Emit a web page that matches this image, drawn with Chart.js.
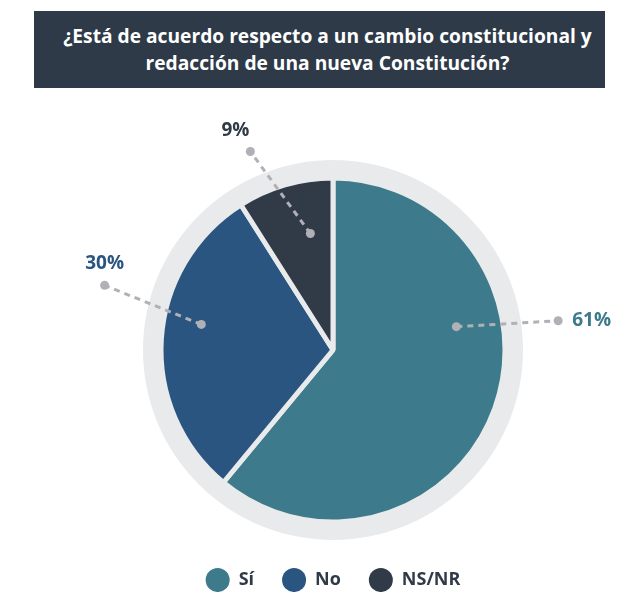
<!DOCTYPE html>
<html lang="es">
<head>
<meta charset="utf-8">
<script src="https://cdn.jsdelivr.net/npm/chart.js@4.4.1/dist/chart.umd.min.js"></script>
<style>
  html, body { margin: 0; padding: 0; background: #fff; }
  #wrap { position: relative; width: 633px; height: 592px; }
  #title {
    position: absolute; left: 34px; top: 11px; width: 571px; height: 77px;
    background: #2e3a48; color: #fff; box-sizing: border-box; padding: 0 0 2px 16px;
    display: flex; align-items: center; justify-content: center; text-align: center;
    font-family: "Open Sans", sans-serif; font-weight: 700; font-size: 19.2px; line-height: 27px;
  }
  #chart { position: absolute; left: 0; top: 0; }
</style>
</head>
<body>
<div id="wrap">
  <div id="title">¿Está de acuerdo respecto a un cambio constitucional y<br>redacción de una nueva Constitución?</div>
  <canvas id="chart" width="633" height="592"></canvas>
</div>
<script>
const categories = ['Sí', 'No', 'NS/NR'];
const percentages = [61, 30, 9];
const sliceColors = ['#3d7a8c', '#2a5580', '#313b48'];

const ringColor = '#e9eaec';
const leaderColor = '#b1b0b7';

// leader line placement, per slice: angles in degrees (0 = right, clockwise), radii relative to pie radius
const leaderLayout = [
  { inAngle: -10.7, inR: 0.73, outAngle: -7.4, outR: 1.32, textDx: 14, textDy: 0, align: 'left' },
  { inAngle: 191, inR: 0.78, outAngle: 195.8, outR: 1.38, textDx: 0, textDy: -22, align: 'center' },
  { inAngle: 259, inR: 0.69, outAngle: 247.4, outR: 1.25, textDx: -15, textDy: -21, align: 'center' }
];

// grey disc behind the pie
const ringPlugin = {
  id: 'ring',
  beforeDatasetsDraw(chart) {
    const arc = chart.getDatasetMeta(0).data[0];
    if (!arc) return;
    const { ctx } = chart;
    ctx.save();
    ctx.fillStyle = ringColor;
    ctx.beginPath();
    ctx.arc(arc.x, arc.y, arc.outerRadius + 18, 0, Math.PI * 2);
    ctx.fill();
    ctx.restore();
  }
};

// dashed leader lines with dots and percentage labels
const leaderPlugin = {
  id: 'leaders',
  afterDatasetsDraw(chart) {
    const { ctx } = chart;
    const meta = chart.getDatasetMeta(0);
    meta.data.forEach((arc, i) => {
      const L = leaderLayout[i];
      const R = arc.outerRadius;
      const a1 = L.inAngle * Math.PI / 180;
      const a2 = L.outAngle * Math.PI / 180;
      const x1 = arc.x + Math.cos(a1) * R * L.inR;
      const y1 = arc.y + Math.sin(a1) * R * L.inR;
      const x2 = arc.x + Math.cos(a2) * R * L.outR;
      const y2 = arc.y + Math.sin(a2) * R * L.outR;
      ctx.save();
      ctx.strokeStyle = leaderColor;
      ctx.lineWidth = 3;
      ctx.setLineDash([6, 5]);
      ctx.beginPath();
      ctx.moveTo(x1, y1);
      ctx.lineTo(x2, y2);
      ctx.stroke();
      ctx.setLineDash([]);
      ctx.fillStyle = leaderColor;
      [[x1, y1], [x2, y2]].forEach(([x, y]) => {
        ctx.beginPath();
        ctx.arc(x, y, 4.5, 0, Math.PI * 2);
        ctx.fill();
      });
      ctx.fillStyle = sliceColors[i];
      ctx.font = '700 19px "Open Sans", sans-serif';
      ctx.textAlign = L.align;
      ctx.textBaseline = 'middle';
      ctx.fillText(percentages[i] + '%', x2 + L.textDx, y2 + L.textDy);
      ctx.restore();
    });
  }
};

new Chart(document.getElementById('chart'), {
  type: 'pie',
  data: {
    labels: categories,
    datasets: [{
      data: percentages,
      backgroundColor: sliceColors,
      borderColor: ringColor,
      borderWidth: 5,
      hoverOffset: 0
    }]
  },
  options: {
    responsive: false,
    animation: false,
    radius: 172,
    rotation: 0,
    layout: { padding: { top: 157, left: 33, right: 0, bottom: -7 } },
    plugins: {
      tooltip: { enabled: false },
      legend: {
        position: 'bottom',
        labels: {
          usePointStyle: true,
          pointStyle: 'circle',
          pointStyleWidth: 24,
          boxHeight: 17,
          padding: 28,
          color: '#313b48',
          font: { family: '"Open Sans", sans-serif', size: 18, weight: '700' },
          generateLabels(chart) {
            return categories.map((c, i) => ({
              text: c,
              fillStyle: sliceColors[i],
              strokeStyle: sliceColors[i],
              lineWidth: 0,
              pointStyle: 'circle',
              fontColor: '#313b48',
              index: i,
              hidden: false
            }));
          }
        }
      }
    }
  },
  plugins: [ringPlugin, leaderPlugin]
});
</script>
</body>
</html>
